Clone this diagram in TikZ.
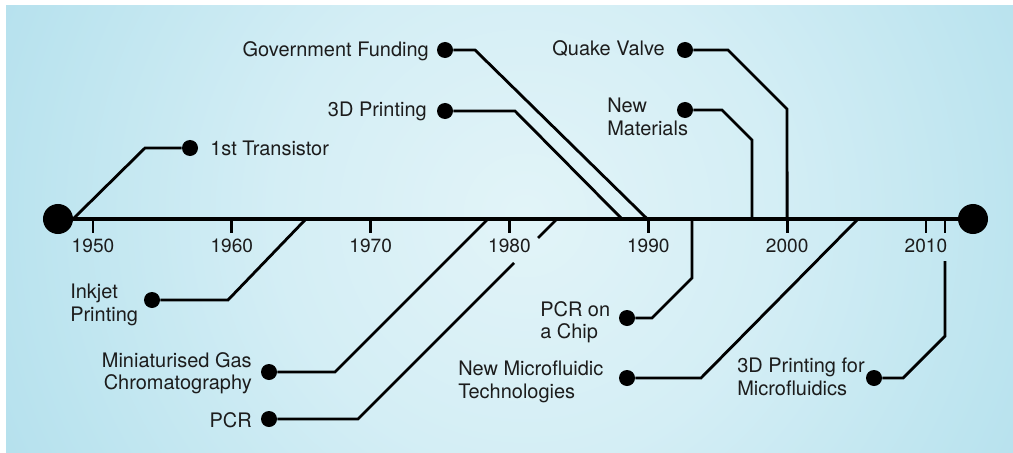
\documentclass[tikz,border=0pt]{standalone}
\usepackage{fontspec}
\setmainfont{TeX Gyre Heros}
\definecolor{skyinner}{HTML}{E2F4F8}
\definecolor{skylight}{HTML}{D4EEF5}
\definecolor{skymid}{HTML}{BCE4EF}
\definecolor{skydeep}{HTML}{ABDBEA}
\definecolor{skyouter}{HTML}{A7D2E6}
\definecolor{skyedge}{HTML}{A4CBE1}
\definecolor{ink}{HTML}{1C1C1C}
\pgfdeclareradialshading{skyglow}{\pgfpoint{0bp}{0bp}}{%
  color(0bp)=(skyinner); color(10bp)=(skylight); color(20bp)=(skymid);
  color(28bp)=(skydeep); color(38bp)=(skyouter); color(50bp)=(skyedge)}

\begin{document}
\begin{tikzpicture}[x=0.025cm,y=-0.025cm,
    event/.style={circle,fill=black,inner sep=0pt,minimum size=4mm},
    endpoint/.style={circle,fill=black,inner sep=0pt,minimum size=7.5mm},
    caption/.style={inner sep=0pt,text=ink,font=\fontsize{14.2}{16}\selectfont},
    yearlabel/.style={inner sep=0pt,text=ink,font=\fontsize{13.6}{15}\selectfont},
    link/.style={line width=2pt},
    axisline/.style={line width=3pt}]
  \useasboundingbox (0,0) rectangle (1013,453);
  \fill[white] (0,0) rectangle (1013,453);
  % backdrop: pale in the middle, deeper blue towards the edges
  \begin{scope}
    \clip (6,6) rectangle (1013,453);
    \shade[shading=skyglow] (525,215) circle [radius=15.5cm];
  \end{scope}

  % time axis with a tick every ten years
  \node[endpoint] (start) at (58,219) {};
  \node[endpoint] (finish) at (973,219) {};
  \draw[axisline] (start) -- (finish);
  \foreach \yr in {1950,1960,...,2010} {
    \coordinate (tick\yr) at ({93+(\yr-1950)*13.883},220);
    \draw[link] (tick\yr) -- ++(0,13);
    \node[yearlabel,anchor=base] (year\yr) at ({93+(\yr-1950)*13.883},252) {\yr};
  }

  % where each event meets the axis
  \coordinate (transfoot) at (72,220);
  \coordinate (inkfoot) at (305,220);
  \coordinate (gasfoot) at (487,220);
  \coordinate (pcrfoot) at (556,220);
  \coordinate (printfoot) at (623,220);
  \coordinate (chipfoot) at (692,220);
  \coordinate (materfoot) at (752,220);
  \coordinate (microfoot) at (857,220);
  \coordinate (pfmfoot) at (945,220);

  % events above the axis
  \node[event] (trans) at (190,148) {};
  \node[caption,anchor=base west] (transtxt) at (210,155) {1st Transistor};
  \node[event] (gov) at (445,50) {};
  \node[caption,anchor=base east] (govtxt) at (429,57) {Government Funding};
  \node[event] (print) at (445,111) {};
  \node[caption,anchor=base east] (printtxt) at (427,117) {3D Printing};
  \node[event] (quake) at (685,50) {};
  \node[caption,anchor=base east] (quaketxt) at (665,56) {Quake Valve};
  \node[event] (mater) at (685,110) {};
  \node[caption,anchor=north west,align=left] (matertxt) at (607,98) {New\\Materials};

  % events below the axis
  \node[event] (ink) at (152,300) {};
  \node[caption,anchor=north west,align=left] (inktxt) at (70,284) {Inkjet\\Printing};
  \node[event] (gas) at (269,372) {};
  \node[caption,anchor=north east,align=right] (gastxt) at (252,352) {Miniaturised Gas\\Chromatography};
  \node[event] (pcr) at (269,419) {};
  \node[caption,anchor=base east] (pcrtxt) at (252,427) {PCR};
  \node[event] (chip) at (627,318) {};
  \node[caption,anchor=north west,align=left] (chiptxt) at (540,301) {PCR on\\a Chip};
  \node[event] (micro) at (627,378) {};
  \node[caption,anchor=north west,align=left] (microtxt) at (458,361) {New Microfluidic\\Technologies};
  \node[event] (pfm) at (874,378) {};
  \node[caption,anchor=north west,align=left] (pfmtxt) at (737,358) {3D Printing for\\Microfluidics};

  % leader lines
  \draw[link] (trans) -- ++(-45,0) -- (transfoot);
  \draw[link] (gov) -- ++(30,0) -- (tick1990);
  \draw[link] (print) -- ++(70,0) -- (printfoot);
  \draw[link] (quake) -- ++(43,0) -- ++(59,59) -- (tick2000);
  \draw[link] (mater) -- ++(37,0) -- ++(30,30) -- (materfoot);
  \draw[link] (ink) -- ++(76,0) -- (inkfoot);
  \draw[link] (gas) -- ++(66,0) -- (gasfoot);
  \draw[link] (pcr) -- ++(89,0) -- ++(156,-156);
  \draw[link] (pcrfoot) -- ++(-18,18);
  \draw[link] (chip) -- ++(25,0) -- ++(40,-40) -- (chipfoot);
  \draw[link] (micro) -- ++(74,0) -- (microfoot);
  \draw[link] (pfm) -- ++(29,0) -- ++(42,-42) -- ++(0,-75);
  \draw[link] (pfmfoot) -- ++(0,13);
\end{tikzpicture}
\end{document}
